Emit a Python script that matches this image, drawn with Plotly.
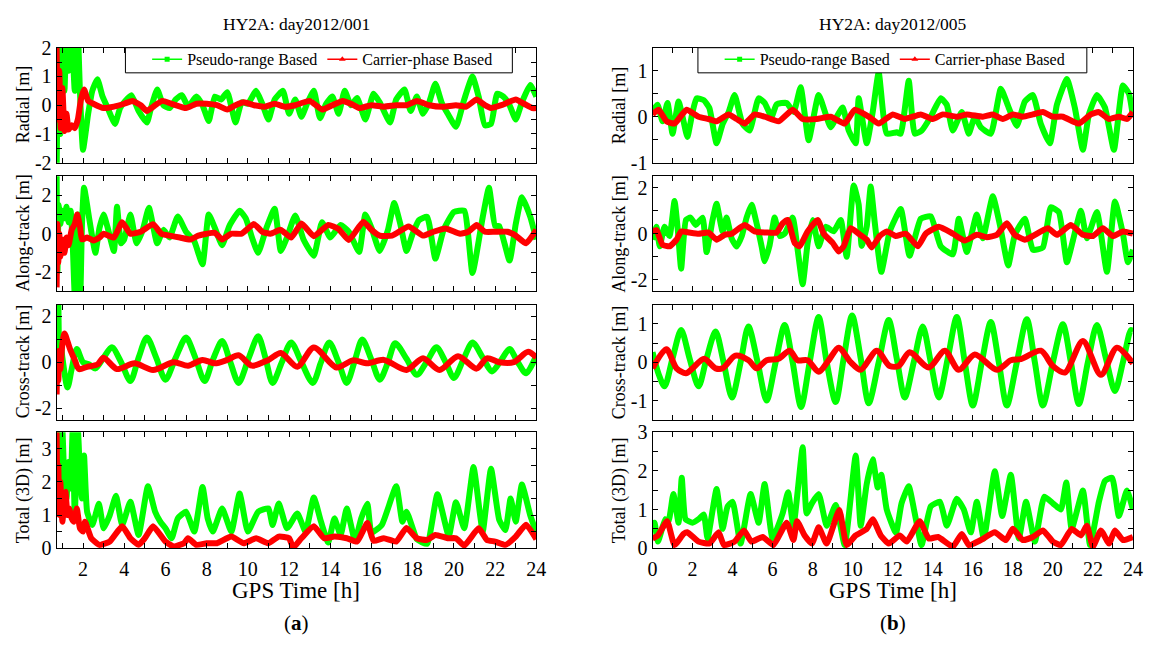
import plotly.graph_objects as go

FONT = "Liberation Serif"
GREEN = "#00FF00"
RED = "#FF0000"

# ---------------- (a) HY2A day2012/001 ----------------
a_rad_g_t = [0.72, 0.8, 0.9, 1.0, 1.1, 1.2, 1.3, 1.45, 1.6, 1.75, 1.85, 2.0, 2.25, 2.45, 2.7, 2.95, 3.2, 3.55, 3.8, 4.05, 4.35, 4.7, 5.1, 5.3, 5.6, 5.9, 6.2, 6.5, 6.8, 7.1, 7.5, 7.8, 8.1, 8.4, 8.7, 9.0, 9.4, 9.7, 10.0, 10.4, 10.7, 11.0, 11.3, 11.7, 12.0, 12.3, 12.6, 12.9, 13.2, 13.5, 13.8, 14.1, 14.4, 14.7, 15.0, 15.3, 15.7, 16.1, 16.4, 16.9, 17.2, 17.6, 17.9, 18.2, 18.5, 18.8, 19.1, 19.4, 19.7, 20.1, 20.5, 20.9, 21.2, 21.5, 21.8, 22.1, 22.4, 22.7, 23.0, 23.3, 23.7, 24.0]
a_rad_g_v = [-2.5, 2.5, -1.0, 2.5, 0.5, 2.5, 1.2, 2.5, 0.5, 2.5, 0.5, -1.55, -0.3, 0.5, 0.9, 0.3, -0.1, -0.65, -0.1, 0.15, 0.35, -0.2, -0.6, -0.1, 0.55, 0.0, -0.1, 0.2, 0.35, -0.05, 0.3, 0.0, -0.55, 0.3, 0.2, 0.45, -0.6, 0.1, 0.05, 0.5, 0.05, -0.5, 0.2, 0.5, -0.3, 0.2, -0.4, 0.1, 0.5, -0.45, 0.05, 0.3, -0.3, 0.5, 0.0, 0.25, -0.5, 0.4, 0.1, -0.6, 0.2, 0.55, -0.2, 0.3, -0.3, 0.1, 0.75, 0.1, -0.3, -0.75, 0.2, 1.0, 0.3, -0.7, -0.65, 0.4, 0.3, 0.0, -0.5, 0.1, 0.7, 0.3]

a_rad_r_t = [0.72, 0.78, 0.85, 0.92, 1.0, 1.1, 1.2, 1.3, 1.45, 1.6, 1.75, 1.9, 2.05, 2.25, 2.5, 3.0, 3.5, 4.0, 4.4, 4.8, 5.1, 5.5, 5.85, 6.3, 7.0, 7.5, 8.0, 8.5, 9.0, 9.4, 9.8, 10.3, 10.8, 11.3, 11.8, 12.3, 13.0, 13.6, 14.1, 14.6, 15.0, 15.4, 16.0, 16.6, 17.2, 17.7, 18.2, 18.8, 19.5, 20.1, 20.6, 21.1, 21.5, 21.8, 22.3, 23.0, 23.4, 23.8, 24.0]
a_rad_r_v = [2.0, -0.5, 1.2, -0.8, 0.6, -0.9, -0.3, -0.85, -0.7, -0.8, -0.5, 0.2, 0.55, 0.15, 0.05, -0.1, -0.05, 0.05, 0.15, 0.0, -0.2, 0.0, 0.15, 0.05, -0.1, 0.05, 0.05, 0.0, -0.15, 0.0, 0.1, 0.0, -0.05, 0.05, -0.05, 0.0, 0.15, -0.15, 0.0, 0.15, 0.05, -0.1, 0.0, -0.05, 0.0, 0.0, 0.15, 0.0, -0.05, 0.0, -0.05, 0.2, 0.0, -0.1, 0.0, 0.2, 0.05, -0.1, -0.1]

a_alo_g_t = [0.72, 0.76, 0.82, 0.9, 1.0, 1.1, 1.2, 1.3, 1.4, 1.5, 1.6, 1.75, 1.87, 1.95, 2.05, 2.3, 2.5, 2.6, 2.8, 3.0, 3.2, 3.5, 3.65, 3.85, 4.0, 4.3, 4.6, 4.9, 5.2, 5.6, 5.9, 6.2, 6.6, 7.0, 7.4, 7.8, 8.1, 8.4, 8.75, 9.1, 9.6, 9.9, 10.2, 10.5, 10.9, 11.3, 11.6, 11.9, 12.3, 12.7, 13.2, 13.6, 14.0, 14.5, 14.9, 15.4, 15.7, 16.0, 16.4, 16.8, 17.1, 17.4, 17.7, 18.0, 18.3, 18.7, 19.1, 19.5, 20.0, 20.5, 20.9, 21.4, 21.7, 22.0, 22.2, 22.7, 23.0, 23.3, 23.7, 24.0]
a_alo_g_v = [3.2, -2.0, 1.5, 0.5, 1.2, 0.8, 1.4, 0.6, 1.2, -0.5, -3.2, 1.0, -3.2, 0.5, 2.4, 0.8, -0.5, -1.0, 0.3, 1.0, 0.3, -0.9, 1.4, -0.5, -0.3, 1.0, -0.5, 0.2, 1.35, -0.5, 0.2, -0.2, 0.9, 0.1, -0.4, -1.6, 1.0, 0.3, -0.6, 0.4, 1.2, 0.8, -0.2, -1.0, 0.3, 1.3, -0.9, -0.2, 0.95, -0.3, -1.15, 0.6, -0.2, 0.45, 0.1, -0.95, 1.0, 0.3, -0.9, 0.2, 1.6, 0.5, -0.9, 0.0, 0.7, 0.88, -1.3, 0.2, 1.13, 1.2, -2.05, 0.88, 2.4, 0.4, 0.4, -1.4, 0.5, 1.9, 0.9, -0.3]

a_alo_r_t = [0.72, 0.76, 0.8, 0.85, 0.9, 1.0, 1.1, 1.2, 1.3, 1.45, 1.6, 1.72, 1.85, 1.95, 2.2, 2.5, 2.8, 3.0, 3.5, 3.9, 4.3, 4.8, 5.4, 5.8, 6.2, 6.7, 7.2, 7.6, 8.0, 8.4, 8.75, 9.2, 9.7, 10.3, 10.7, 11.1, 11.6, 12.1, 12.6, 13.2, 13.9, 14.4, 14.9, 15.6, 16.0, 16.4, 17.0, 17.8, 18.5, 19.0, 19.6, 20.3, 20.7, 21.1, 21.5, 22.0, 22.6, 23.0, 23.5, 24.0]
a_alo_r_v = [-2.8, 0.5, -1.5, 0.0, -1.2, -0.3, -1.0, -0.2, -0.6, 0.2, 0.5, 1.0, 0.4, -0.3, -0.2, -0.35, -0.2, 0.0, -0.2, 0.6, 0.0, 0.1, 0.5, 0.0, -0.1, -0.2, -0.3, -0.1, 0.0, 0.05, -0.3, 0.0, 0.0, 0.5, 0.1, 0.0, 0.2, -0.2, 0.53, -0.13, 0.45, 0.25, -0.33, 0.63, 0.2, -0.1, -0.1, 0.37, -0.1, 0.1, 0.27, 0.0, 0.1, 0.45, 0.1, 0.1, 0.1, -0.1, -0.5, 0.2]

a_crs_g_t = [0.72, 0.76, 0.8, 0.85, 0.9, 1.0, 1.25, 1.45, 1.7, 2.0, 2.3, 2.6, 3.0, 3.4, 3.85, 4.3, 4.7, 5.1, 5.55, 6.0, 6.5, 7.0, 7.45, 7.9, 8.3, 8.75, 9.15, 9.55, 10.05, 10.5, 10.85, 11.2, 11.65, 12.1, 12.6, 13.15, 13.55, 13.95, 14.4, 14.8, 15.2, 15.55, 16.0, 16.4, 16.8, 17.15, 17.7, 18.2, 18.7, 19.15, 19.6, 20.0, 20.45, 20.9, 21.4, 21.85, 22.3, 22.7, 23.1, 23.5, 24.0]
a_crs_g_v = [2.6, -0.5, 2.6, 0.0, 1.0, 0.2, -1.1, -0.3, 0.57, 0.0, -0.1, -0.27, 0.2, 0.65, 0.0, -0.82, 0.2, 1.07, 0.2, -0.76, 0.2, 1.07, 0.2, -0.82, 0.1, 0.92, 0.0, -0.9, 0.2, 1.13, 0.2, -0.9, 0.0, 0.86, 0.0, -0.9, 0.0, 0.86, 0.0, -0.9, 0.1, 0.99, 0.1, -0.76, 0.0, 0.82, 0.15, -0.55, 0.05, 0.65, 0.0, -0.69, 0.1, 0.86, 0.2, -0.4, 0.1, 0.57, 0.0, -0.48, 0.29]

a_crs_r_t = [0.72, 0.76, 0.8, 0.85, 0.9, 1.0, 1.1, 1.25, 1.4, 1.6, 1.8, 2.2, 2.7, 3.0, 3.65, 4.5, 5.4, 6.4, 7.1, 7.8, 8.4, 9.0, 9.55, 10.2, 11.0, 11.6, 12.4, 13.2, 14.3, 15.1, 15.8, 16.6, 17.7, 18.5, 19.3, 20.2, 21.1, 21.6, 22.2, 22.9, 23.6, 24.0]
a_crs_r_v = [-1.4, 0.2, -0.8, 0.5, -0.3, 0.8, 1.25, 0.9, 0.5, 0.1, -0.3, -0.2, -0.1, 0.19, -0.3, -0.05, -0.34, 0.0, -0.15, 0.1, -0.05, 0.1, 0.3, -0.15, 0.1, 0.4, -0.2, 0.64, -0.23, 0.08, -0.05, 0.1, -0.34, 0.17, -0.34, 0.26, -0.28, 0.17, 0.0, 0.0, 0.45, 0.2]

a_tot_g_t = [0.72, 0.76, 0.8, 0.85, 0.9, 0.95, 1.0, 1.1, 1.2, 1.3, 1.4, 1.5, 1.6, 1.75, 1.85, 1.95, 2.05, 2.2, 2.45, 2.77, 3.0, 3.3, 3.6, 3.9, 4.3, 4.7, 5.15, 5.5, 5.75, 6.0, 6.3, 6.6, 7.0, 7.4, 7.8, 8.05, 8.3, 8.75, 9.2, 9.6, 10.0, 10.5, 11.0, 11.2, 11.5, 11.9, 12.4, 12.8, 13.2, 13.55, 13.9, 14.2, 14.5, 14.8, 15.2, 15.5, 15.8, 16.0, 16.5, 17.2, 17.5, 17.7, 18.0, 18.2, 18.7, 19.2, 19.75, 20.1, 20.5, 20.95, 21.25, 21.4, 21.8, 22.2, 22.5, 22.75, 23.0, 23.3, 23.7, 24.0]
a_tot_g_v = [3.6, 2.0, 3.6, 1.5, 3.6, 2.5, 3.6, 2.0, 1.5, 2.6, 1.8, 3.6, 1.0, 3.6, 2.3, 1.5, 2.8, 1.1, 0.7, 1.34, 0.6, 1.0, 1.58, 0.7, 1.4, 0.4, 1.87, 1.1, 0.8, 0.6, 0.3, 0.9, 1.1, 0.5, 1.85, 0.9, 0.5, 1.2, 0.5, 1.65, 0.5, 1.1, 1.2, 0.7, 1.35, 0.6, 1.05, 0.5, 1.53, 0.8, 0.17, 0.9, 0.4, 1.2, 0.22, 0.9, 1.34, 0.47, 0.7, 1.87, 0.8, 1.1, 0.6, 0.27, 0.13, 1.63, 0.37, 1.39, 0.6, 2.45, 1.1, 0.5, 2.4, 0.85, 0.55, 1.5, 0.8, 1.92, 1.0, 0.47]

a_tot_r_t = [0.72, 0.76, 0.8, 0.85, 0.9, 1.0, 1.1, 1.15, 1.25, 1.33, 1.45, 1.55, 1.7, 1.85, 2.0, 2.1, 2.4, 2.8, 3.3, 3.9, 4.3, 4.7, 5.0, 5.4, 6.0, 6.4, 6.9, 7.1, 7.5, 8.0, 8.5, 9.2, 9.8, 10.4, 11.0, 11.5, 12.0, 12.2, 12.6, 13.2, 13.7, 14.2, 14.8, 15.3, 15.8, 16.1, 16.6, 17.2, 17.7, 18.2, 18.7, 19.1, 19.7, 20.1, 20.5, 21.2, 21.6, 22.0, 22.5, 23.0, 23.5, 24.0]
a_tot_r_v = [3.5, 1.5, 2.5, 1.0, 2.0, 0.8, 1.5, 1.7, 1.0, 1.2, 0.9, 0.8, 1.2, 0.6, 0.5, 0.8, 0.3, 0.1, 0.2, 0.66, 0.3, 0.1, 0.3, 0.66, 0.2, 0.05, 0.15, 0.3, 0.1, 0.15, 0.15, 0.35, 0.15, 0.3, 0.15, 0.35, 0.3, 0.02, 0.3, 0.66, 0.3, 0.35, 0.3, 0.2, 0.76, 0.22, 0.3, 0.2, 0.61, 0.3, 0.25, 0.4, 0.3, 0.3, 0.08, 0.6, 0.25, 0.2, 0.1, 0.35, 0.71, 0.27]

# ---------------- (b) HY2A day2012/005 ----------------
b_rad_g_t = [0, 0.25, 0.5, 0.75, 1.0, 1.3, 1.55, 1.74, 2.0, 2.2, 2.56, 2.84, 3.2, 3.5, 3.8, 4.1, 4.5, 4.85, 5.3, 5.6, 5.95, 6.2, 6.7, 7.05, 7.4, 7.8, 8.3, 8.9, 9.2, 9.5, 9.8, 10.15, 10.3, 10.7, 11.0, 11.3, 11.7, 12.2, 12.4, 12.8, 13.1, 13.45, 13.9, 14.4, 14.7, 15.0, 15.45, 15.8, 16.1, 16.4, 16.9, 17.4, 17.8, 18.2, 18.6, 19.0, 19.4, 19.85, 20.2, 20.7, 21.1, 21.5, 21.8, 22.2, 22.6, 23.05, 23.5, 23.8, 24.0]
b_rad_g_v = [0.1, 0.26, -0.1, 0.3, -0.37, 0.33, -0.1, -0.44, 0.1, 0.4, 0.36, 0.19, -0.58, -0.16, 0.1, 0.47, -0.16, -0.3, 0.4, 0.3, 0.0, 0.27, 0.3, 0.1, 0.64, -0.51, 0.47, -0.23, 0.0, 0.2, -0.3, -0.58, 0.4, -0.58, 0.1, 0.96, -0.37, -0.34, -0.37, 0.78, -0.37, -0.3, 0.0, 0.4, 0.26, -0.3, 0.1, -0.37, 0.0, -0.23, -0.37, 0.61, 0.19, -0.2, 0.33, 0.47, -0.16, -0.58, 0.26, 0.82, 0.19, -0.72, 0.05, 0.47, 0.2, -0.72, 0.68, 0.5, 0.0]

b_rad_r_t = [0, 0.3, 0.7, 1.1, 1.7, 2.3, 2.8, 3.2, 3.8, 4.2, 4.6, 5.1, 5.6, 6.3, 7.0, 7.5, 8.2, 8.9, 9.6, 10.1, 10.8, 11.3, 12.0, 12.6, 13.4, 14.0, 14.5, 15.2, 15.7, 16.5, 17.0, 17.5, 18.0, 18.5, 19.0, 19.5, 20.0, 20.5, 21.3, 21.9, 22.3, 22.8, 23.3, 23.7, 24.0]
b_rad_r_v = [0.05, 0.15, -0.1, -0.15, 0.15, 0.0, -0.05, -0.1, 0.05, -0.05, -0.15, 0.05, 0.0, -0.1, 0.15, -0.05, -0.05, 0.0, -0.15, 0.15, 0.0, -0.15, 0.05, -0.05, 0.05, -0.05, 0.05, 0.0, 0.05, 0.0, 0.05, -0.05, 0.05, 0.0, 0.05, 0.1, 0.0, 0.0, -0.15, 0.05, 0.1, -0.05, 0.0, -0.05, 0.1]

b_alo_g_t = [0, 0.2, 0.36, 0.6, 0.85, 1.1, 1.27, 1.43, 1.67, 1.9, 2.16, 2.5, 2.7, 3.0, 3.2, 3.5, 3.7, 3.95, 4.2, 4.46, 4.7, 4.95, 5.2, 5.45, 5.6, 5.85, 6.1, 6.35, 6.6, 7.0, 7.25, 7.5, 7.75, 8.0, 8.3, 8.65, 9.05, 9.4, 9.7, 10.05, 10.3, 10.45, 10.7, 10.9, 11.1, 11.43, 11.85, 12.4, 12.84, 13.4, 13.9, 14.4, 15.0, 15.3, 15.7, 16.2, 16.5, 17.0, 17.35, 17.77, 18.1, 18.6, 19.0, 19.5, 19.9, 20.3, 20.7, 21.0, 21.4, 21.7, 22.2, 22.7, 23.1, 23.5, 23.75, 24.0]
b_alo_g_v = [-0.26, 0.3, -0.55, 0.3, -0.1, 1.42, 0.1, -1.52, 0.6, 0.7, 0.38, 0.7, -0.8, 0.6, 1.3, 0.1, 0.7, -0.2, -0.56, -0.1, 0.7, 1.26, 0.45, -0.55, -1.2, -0.5, 0.7, -0.1, 0.0, 0.7, -0.7, -2.2, -0.4, 0.6, -0.55, 0.3, 0.1, 0.6, -1.0, 2.1, 1.26, -0.53, 0.3, 2.05, 0.5, -1.66, 0.1, 1.07, -0.96, 0.65, 0.75, -0.55, -0.9, 0.65, -0.8, 0.84, -0.2, 1.63, 0.4, -1.38, -0.05, 0.65, -0.7, -0.6, 1.15, 0.94, -1.24, -0.3, 1.0, -0.2, 0.94, -1.66, 1.4, 0.0, -1.24, -0.7]

b_alo_r_t = [0, 0.2, 0.5, 0.85, 1.2, 1.43, 1.84, 2.3, 2.8, 3.2, 3.6, 3.95, 4.6, 5.1, 5.7, 6.2, 6.5, 6.75, 7.1, 7.35, 7.75, 8.25, 8.55, 9.0, 9.3, 9.55, 9.9, 10.3, 10.7, 10.95, 11.35, 11.7, 12.15, 12.65, 13.25, 13.65, 14.3, 15.0, 15.6, 16.2, 16.7, 17.2, 17.7, 18.1, 18.6, 19.0, 19.75, 20.2, 20.9, 21.5, 22.0, 22.5, 23.0, 23.5, 24.0]
b_alo_r_v = [0.1, 0.15, -0.48, -0.55, -0.26, 0.1, 0.05, 0.0, 0.05, -0.26, -0.05, 0.0, 0.38, 0.1, 0.05, 0.05, 0.45, 0.6, -0.4, -0.55, 0.1, 0.6, 0.0, -0.4, -0.77, -0.55, 0.24, 0.0, -0.26, -0.6, -0.1, 0.1, -0.1, 0.0, -0.55, 0.0, 0.3, 0.0, -0.3, -0.05, -0.15, -0.05, 0.45, -0.05, -0.26, -0.1, 0.24, -0.05, 0.38, -0.05, -0.1, 0.24, -0.1, 0.1, 0.0]

b_crs_g_t = [0, 0.3, 0.6, 1.0, 1.43, 1.85, 2.3, 2.7, 3.15, 3.55, 3.97, 4.4, 4.79, 5.25, 5.7, 6.15, 6.6, 7.0, 7.42, 7.85, 8.3, 8.7, 9.15, 9.55, 9.97, 10.4, 10.8, 11.3, 11.8, 12.2, 12.6, 13.05, 13.5, 13.9, 14.3, 14.75, 15.2, 15.6, 16.0, 16.45, 16.9, 17.3, 17.7, 18.2, 18.7, 19.1, 19.5, 20.0, 20.5, 20.9, 21.3, 21.75, 22.2, 22.65, 23.1, 23.5, 23.9, 24.0]
b_crs_g_v = [0.26, -0.3, -0.63, 0.1, 0.84, 0.1, -0.63, 0.1, 0.8, 0.0, -0.92, 0.0, 0.93, 0.0, -1.0, 0.0, 0.97, 0.0, -1.17, 0.0, 1.18, 0.0, -1.04, 0.1, 1.22, 0.1, -1.07, 0.0, 1.1, 0.1, -0.92, 0.0, 0.93, 0.0, -0.92, 0.1, 1.18, 0.0, -1.13, 0.0, 1.05, 0.0, -1.13, 0.0, 1.12, 0.0, -1.13, 0.0, 0.99, 0.0, -1.09, 0.0, 0.97, 0.1, -0.75, 0.0, 0.84, 0.8]

b_crs_r_t = [0, 0.69, 1.2, 1.67, 2.0, 2.58, 3.15, 3.5, 4.14, 4.8, 5.2, 5.7, 6.3, 6.85, 7.25, 7.75, 8.3, 8.8, 9.3, 9.9, 10.4, 11.2, 11.85, 12.3, 12.84, 13.8, 14.6, 15.3, 16.1, 17.2, 17.9, 18.4, 19.4, 20.0, 20.6, 21.5, 22.4, 23.2, 24.0]
b_crs_r_v = [-0.16, 0.34, -0.16, -0.29, -0.16, 0.09, -0.16, -0.16, 0.17, 0.05, -0.16, 0.05, 0.09, 0.3, 0.05, 0.05, -0.25, 0.05, 0.38, 0.0, -0.2, 0.3, -0.1, -0.1, 0.26, -0.14, 0.3, -0.2, 0.2, -0.2, 0.05, 0.08, 0.3, -0.1, -0.27, 0.55, -0.33, 0.38, -0.03]

b_tot_g_t = [0, 0.1, 0.27, 0.64, 0.8, 1.04, 1.3, 1.46, 1.65, 2.0, 2.3, 2.56, 2.75, 3.2, 3.5, 3.75, 4.0, 4.4, 4.9, 5.3, 5.6, 6.0, 6.5, 6.77, 7.04, 7.5, 7.7, 7.96, 8.3, 8.7, 9.15, 9.6, 10.15, 10.4, 10.7, 11.0, 11.25, 11.43, 11.7, 12.16, 12.44, 12.8, 13.1, 13.44, 13.9, 14.36, 14.7, 15.2, 15.55, 15.9, 16.2, 16.55, 17.1, 17.47, 17.9, 18.3, 18.66, 19.1, 19.57, 20.0, 20.4, 20.67, 20.94, 21.5, 21.86, 22.3, 22.6, 22.96, 23.3, 23.7, 24.0]
b_tot_g_v = [0.5, 0.66, 0.17, 0.75, 0.7, 1.4, 0.66, 1.82, 0.75, 0.66, 0.75, 0.87, 0.25, 1.53, 0.5, 1.08, 1.2, 0.12, 1.4, 0.66, 1.66, 0.25, 0.9, 1.45, 0.58, 2.61, 0.9, 1.16, 1.4, 0.58, 1.12, 0.08, 2.4, 0.58, 1.66, 2.3, 1.57, 1.9, 1.0, 0.4, 1.16, 1.6, 0.9, 0.08, 1.08, 1.2, 0.58, 1.28, 1.0, 0.41, 1.2, 0.25, 1.99, 0.83, 1.9, 0.25, 1.2, 0.17, 1.33, 1.16, 1.0, 1.7, 0.5, 1.49, 0.08, 1.2, 1.74, 1.82, 0.83, 1.49, 1.0]

b_tot_r_t = [0, 0.27, 0.73, 1.1, 1.55, 1.74, 2.3, 2.84, 3.3, 3.57, 4.1, 4.57, 4.94, 5.5, 6.04, 6.7, 7.04, 7.22, 7.6, 7.96, 8.3, 8.7, 9.33, 9.7, 10.15, 10.7, 11.0, 11.4, 11.8, 12.35, 12.7, 13.35, 13.8, 14.27, 15.0, 15.45, 15.8, 16.4, 17.1, 17.65, 18.0, 18.5, 19.0, 19.5, 20.0, 20.4, 20.94, 21.4, 21.7, 22.0, 22.4, 22.8, 23.1, 23.5, 24.0]
b_tot_r_v = [0.25, 0.33, 0.7, 0.08, 0.37, 0.41, 0.17, 0.12, 0.41, 0.08, 0.17, 0.46, 0.17, 0.29, 0.08, 0.66, 0.21, 0.7, 0.33, 0.12, 0.54, 0.12, 0.99, 0.08, 0.33, 0.5, 0.75, 0.33, 0.12, 0.33, 0.17, 0.7, 0.25, 0.29, 0.04, 0.37, 0.08, 0.21, 0.41, 0.21, 0.5, 0.21, 0.29, 0.46, 0.17, 0.08, 0.5, 0.33, 0.58, 0.04, 0.46, 0.12, 0.46, 0.21, 0.29]

titles = ["HY2A: day2012/001", "HY2A: day2012/005"]
panel_labels = ["a", "b"]
row_titles = ["Radial [m]", "Along-track [m]", "Cross-track [m]", "Total (3D) [m]"]
legend_names = ["Pseudo-range Based", "Carrier-phase Based"]
x_ranges = [[0.72, 24], [0, 24]]
x_ticks = [list(range(2, 25, 2)), list(range(0, 25, 2))]
y_ranges = [[[-2, 2], [-3, 3], [-2.5, 2.5], [0, 3.5]],
            [[-1, 1.5], [-2.5, 2.5], [-1.5, 1.5], [0, 3]]]
y_ticks = [[[-2, -1, 0, 1, 2], [-2, 0, 2], [-2, 0, 2], [0, 1, 2, 3]],
           [[-1, 0, 1], [-2, 0, 2], [-1, 0, 1], [0, 1, 2, 3]]]
y_minor = [[0.5, 1, 1, 0.5], [0.5, 1, 0.5, 0.5]]
# cross-track rows are smooth orbital sinusoids; the others are noisier
row_smoothing = [0.45, 0.45, 0.8, 0.45]

series = [
    [(a_rad_g_t, a_rad_g_v, a_rad_r_t, a_rad_r_v), (a_alo_g_t, a_alo_g_v, a_alo_r_t, a_alo_r_v),
     (a_crs_g_t, a_crs_g_v, a_crs_r_t, a_crs_r_v), (a_tot_g_t, a_tot_g_v, a_tot_r_t, a_tot_r_v)],
    [(b_rad_g_t, b_rad_g_v, b_rad_r_t, b_rad_r_v), (b_alo_g_t, b_alo_g_v, b_alo_r_t, b_alo_r_v),
     (b_crs_g_t, b_crs_g_v, b_crs_r_t, b_crs_r_v), (b_tot_g_t, b_tot_g_v, b_tot_r_t, b_tot_r_v)],
]

W, H = 1161, 650
x_px = [(52.3, 538.3), (656, 1142.7)]
y_px = [(38, 157), (171, 290), (304, 423), (436, 556)]
legend_box_px = [(122, 514), (702, 1096)]


def px_x(p):
    return p / W


def px_y(p):
    return 1 - p / H


fig = go.Figure()
layout = dict(
    width=W, height=H, margin=dict(l=0, r=0, t=0, b=0),
    paper_bgcolor="white", plot_bgcolor="white",
    font=dict(family=FONT, color="black", size=17),
    showlegend=True,
)
annotations = []
shapes = []

for c in range(2):
    for r in range(4):
        n = c * 4 + r + 1
        xa = "x" if n == 1 else f"x{n}"
        ya = "y" if n == 1 else f"y{n}"
        gt, gv, rt, rv = series[c][r]
        sm = row_smoothing[r]
        fig.add_trace(go.Scatter(x=gt, y=gv, mode="lines", xaxis=xa, yaxis=ya,
                                 line=dict(color=GREEN, width=6, shape="spline", smoothing=sm),
                                 showlegend=False, hoverinfo="skip"))
        fig.add_trace(go.Scatter(x=rt, y=rv, mode="lines", xaxis=xa, yaxis=ya,
                                 line=dict(color=RED, width=6, shape="spline", smoothing=sm),
                                 showlegend=False, hoverinfo="skip"))
        xk = "xaxis" if n == 1 else f"xaxis{n}"
        yk = "yaxis" if n == 1 else f"yaxis{n}"
        layout[xk] = dict(
            domain=[px_x(x_px[c][0]), px_x(x_px[c][1])], anchor=ya, range=x_ranges[c],
            showline=True, linecolor="black", linewidth=1, mirror="allticks",
            ticks="inside", ticklen=5, tickcolor="black",
            tickmode="array", tickvals=x_ticks[c], ticktext=[str(v) for v in x_ticks[c]],
            showticklabels=(r == 3), tickfont=dict(family=FONT, size=20),
            ticklabelstandoff=3,
            minor=dict(ticks="inside", tickmode="linear", tick0=0, dtick=1, ticklen=5, tickcolor="black"),
            showgrid=False, zeroline=False, fixedrange=True,
        )
        yt = y_ticks[c][r]
        layout[yk] = dict(
            domain=[px_y(y_px[r][1]), px_y(y_px[r][0])], anchor=xa, range=y_ranges[c][r],
            showline=True, linecolor="black", linewidth=1, mirror="allticks",
            ticks="inside", ticklen=5, tickcolor="black",
            tickmode="array", tickvals=yt, ticktext=[str(v) for v in yt],
            tickfont=dict(family=FONT, size=20),
            minor=dict(ticks="inside", tickmode="linear", tick0=0, dtick=y_minor[c][r], ticklen=5, tickcolor="black"),
            showgrid=False, zeroline=False, fixedrange=True,
        )
        annotations.append(dict(
            text=row_titles[r], xref="paper", yref="paper",
            x=px_x(x_px[c][0] - 34), y=px_y((y_px[r][0] + y_px[r][1]) / 2),
            showarrow=False, textangle=-90, font=dict(family=FONT, size=18),
            xanchor="center", yanchor="middle",
        ))
    cx = (x_px[c][0] + x_px[c][1]) / 2
    annotations.append(dict(text=titles[c], xref="paper", yref="paper", x=px_x(cx), y=px_y(13),
                            showarrow=False, font=dict(family=FONT, size=17.5),
                            xanchor="center", yanchor="middle"))
    annotations.append(dict(text="GPS Time [h]", xref="paper", yref="paper", x=px_x(cx), y=px_y(600),
                            showarrow=False, font=dict(family=FONT, size=23),
                            xanchor="center", yanchor="middle"))
    annotations.append(dict(text=f"(<b>{panel_labels[c]}</b>)", xref="paper", yref="paper",
                            x=px_x(cx), y=px_y(633), showarrow=False,
                            font=dict(family=FONT, size=21), xanchor="center", yanchor="middle"))

    # legend box
    bx0, bx1 = legend_box_px[c]
    shapes.append(dict(type="rect", xref="paper", yref="paper",
                       x0=px_x(bx0), x1=px_x(bx1), y0=px_y(64), y1=px_y(38),
                       line=dict(color="black", width=1), fillcolor="white", layer="above"))

    lg = "legend" if c == 0 else "legend2"
    xa = "x" if c == 0 else "x5"
    ya = "y" if c == 0 else "y5"
    fig.add_trace(go.Scatter(x=[None], y=[None], mode="lines+markers", name=legend_names[0],
                             xaxis=xa, yaxis=ya, legend=lg,
                             line=dict(color=GREEN, width=1.5),
                             marker=dict(symbol="square", size=5, color=GREEN)))
    fig.add_trace(go.Scatter(x=[None], y=[None], mode="lines+markers", name=legend_names[1],
                             xaxis=xa, yaxis=ya, legend=lg,
                             line=dict(color=RED, width=1.5),
                             marker=dict(symbol="triangle-up", size=6, color=RED)))
    layout[lg] = dict(
        orientation="h", x=px_x(bx0 + 22), y=px_y(50), xanchor="left", yanchor="middle",
        bgcolor="rgba(0,0,0,0)", borderwidth=0,
        font=dict(family=FONT, size=16, color="black"),
        itemwidth=30, tracegroupgap=0,
    )

layout["annotations"] = annotations
layout["shapes"] = shapes
fig.update_layout(**layout)
fig.write_html("out.html",
               post_script="document.body.style.margin='0';document.documentElement.style.margin='0';")
